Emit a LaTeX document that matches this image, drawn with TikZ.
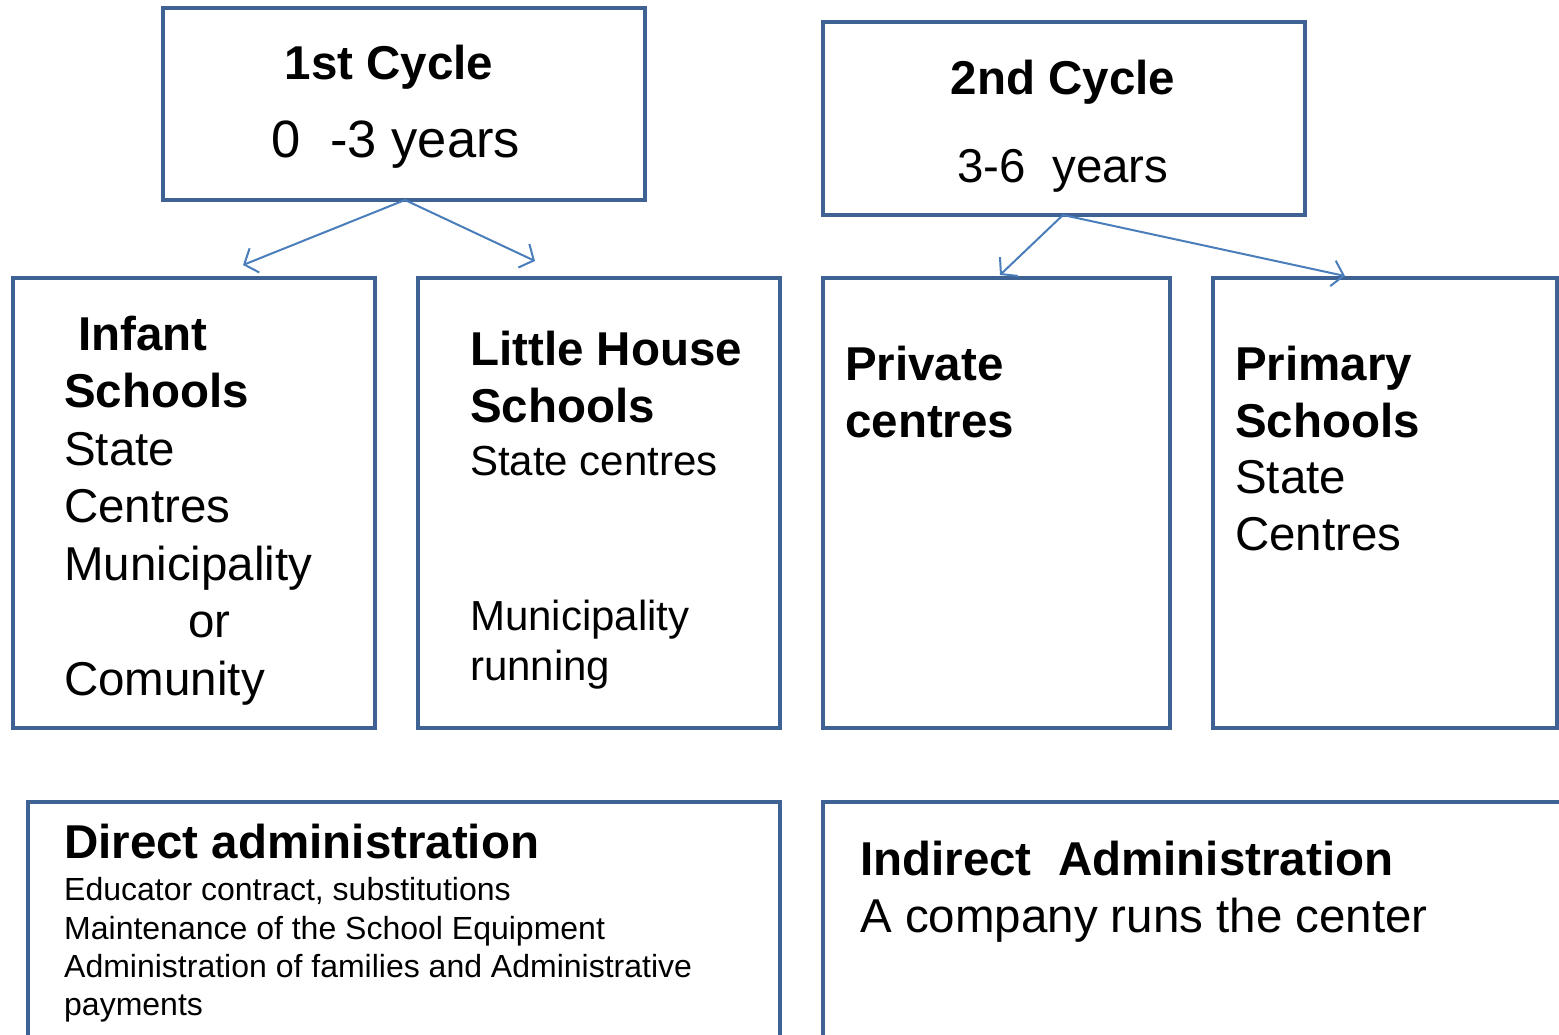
\documentclass[tikz,border=0pt]{standalone}
\usepackage{fontspec}
\setmainfont{Liberation Sans}
\usetikzlibrary{arrows.meta}
\definecolor{boxblue}{RGB}{63,98,148}
\definecolor{arrblue}{RGB}{74,126,187}
\tikzset{
  box/.style={draw=boxblue, line width=4pt, fill=none, inner sep=0pt},
  lbl/.style={anchor=base west, inner sep=0pt, font=\fontsize{47.5}{57}\selectfont},
  blbl/.style={lbl, font=\fontsize{47.5}{57}\selectfont\bfseries},
  conn/.style={draw=arrblue, line width=2pt, -{Straight Barb[length=11pt,width=26pt,line width=2pt]}}
}
\begin{document}
\begin{tikzpicture}[x=1pt,y=-1pt]
\useasboundingbox (0,0) rectangle (1559,1035);
% boxes
\draw[box] (163,8) rectangle (645,200);
\node[inner sep=0pt] (c1) at (404,104) {};
\coordinate (c1s) at (405,200);
\draw[box] (823,22) rectangle (1305,215);
\coordinate (c2s) at (1063,215);
\draw[box] (13,278) rectangle (375,728);
\draw[box] (418,278) rectangle (780,728);
\draw[box] (823,278) rectangle (1170,728);
\draw[box] (1213,278) rectangle (1557,728);
\draw[box] (28,1100) -- (28,802) -- (780,802) -- (780,1100);
\draw[box] (823,1100) -- (823,802) -- (1620,802);
% arrow end points
\coordinate (e1) at (243,265);
\coordinate (e2) at (535,261);
\coordinate (e3) at (1000,275);
\coordinate (e4) at (1345,276);
\draw[conn] (c1s) -- (e1);
\draw[conn] (c1s) -- (e2);
\draw[conn] (c2s) -- (e3);
\draw[conn] (c2s) -- (e4);
% 1st cycle
\node[blbl, anchor=base] (t1) at (389,80) {1st Cycle};
\node[lbl, anchor=base, font=\fontsize{52.5}{60}\selectfont] (t1b) at (396,158) {0\ \ -3 years};
% 2nd cycle
\node[blbl, anchor=base] (t2) at (1063,95) {2nd Cycle};
\node[lbl, anchor=base] (t2b) at (1063,183) {3-6\ \ years};
% infant
\node[blbl] (i1) at (78,350) {Infant};
\node[blbl] (i2) at (64,407) {Schools};
\node[lbl] (i3) at (64,465) {State};
\node[lbl] (i4) at (64,522) {Centres};
\node[lbl] (i5) at (64,580) {Municipality};
\node[lbl] (i6) at (188,637) {or};
\node[lbl] (i7) at (64,695) {Comunity};
% little house
\node[blbl] (l1) at (470,365) {Little House};
\node[blbl] (l2) at (470,422) {Schools};
\node[lbl, font=\fontsize{42}{50}\selectfont] (l3) at (470,475) {State centres};
\node[lbl, font=\fontsize{42}{50}\selectfont] (l4) at (470,630) {Municipality};
\node[lbl, font=\fontsize{42}{50}\selectfont] (l5) at (470,680) {running};
% private
\node[blbl] (p1) at (845,380) {Private};
\node[blbl] (p2) at (845,437) {centres};
% primary
\node[blbl] (q1) at (1235,380) {Primary};
\node[blbl] (q2) at (1235,437) {Schools};
\node[lbl] (q3) at (1235,493) {State};
\node[lbl] (q4) at (1235,550) {Centres};
% direct
\node[blbl] (d1) at (64,858) {Direct administration};
\node[lbl, font=\fontsize{32}{38}\selectfont] (d2) at (64,900) {Educator contract, substitutions};
\node[lbl, font=\fontsize{32}{38}\selectfont] (d3) at (64,939) {Maintenance of the School Equipment};
\node[lbl, font=\fontsize{32}{38}\selectfont] (d4) at (64,977) {Administration of families and Administrative};
\node[lbl, font=\fontsize{32}{38}\selectfont] (d5) at (64,1015) {payments};
% indirect
\node[blbl] (n1) at (860,875) {Indirect\ \ Administration};
\node[lbl] (n2) at (860,932) {A company runs the center};
\end{tikzpicture}
\end{document}
